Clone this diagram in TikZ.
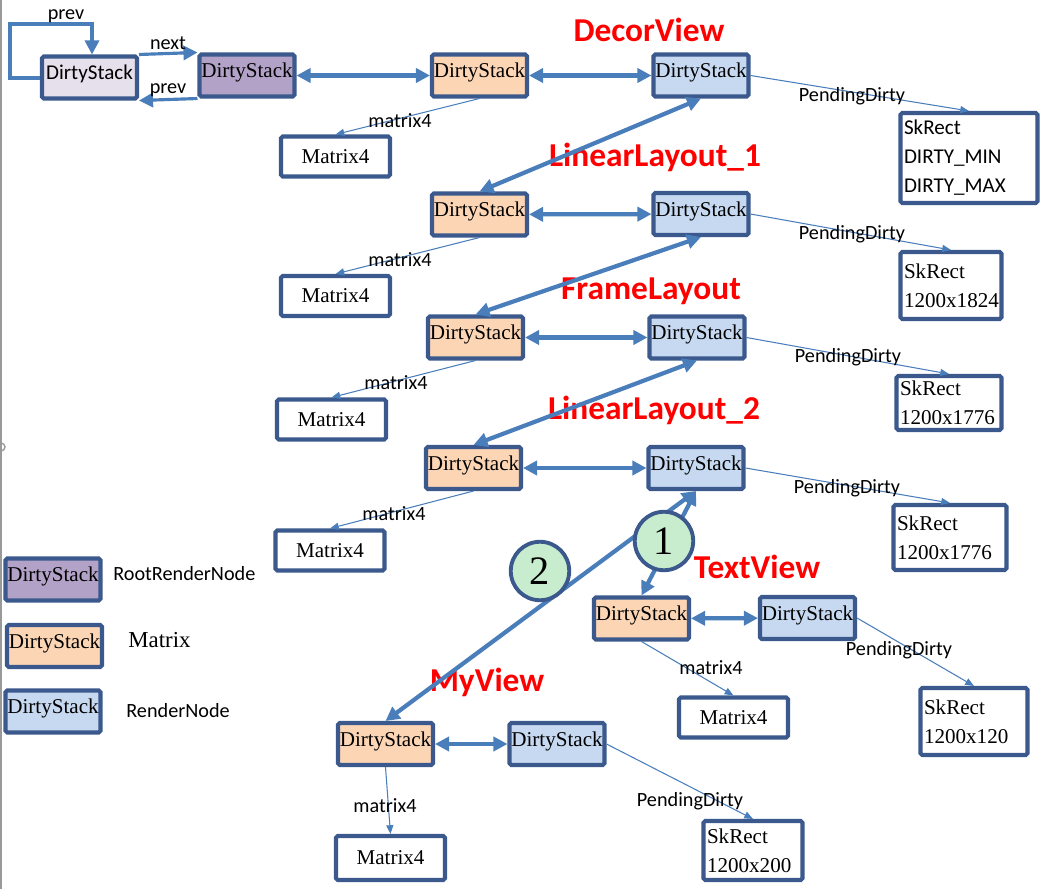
\documentclass[tikz,border=0pt]{standalone}
\usepackage{fontspec}
\setmainfont{Liberation Serif}
\newfontfamily\calibri{Carlito}
\usetikzlibrary{arrows.meta}
\definecolor{edgeblue}{RGB}{59,89,140}
\definecolor{arrowblue}{RGB}{74,126,187}
\definecolor{rootfill}{RGB}{179,162,199}
\definecolor{lavfill}{RGB}{230,224,236}
\definecolor{matfill}{RGB}{252,213,181}
\definecolor{rendfill}{RGB}{198,217,241}
\definecolor{stepfill}{RGB}{200,236,206}
\tikzset{
  dstack/.style={draw=edgeblue, line width=2.3pt, rounded corners=1pt, minimum width=1.9cm,
    minimum height=0.84cm, inner sep=1pt, text height=8.5pt, text depth=6pt,
    font=\fontsize{12}{14}\selectfont},
  rootds/.style={dstack, fill=rootfill},
  matds/.style={dstack, fill=matfill},
  rendds/.style={dstack, fill=rendfill},
  matbox/.style={draw=edgeblue, line width=2.3pt, rounded corners=1pt, fill=white,
    minimum width=2.18cm, minimum height=0.8cm, font=\fontsize{12}{14}\selectfont},
  rectbox/.style={draw=edgeblue, line width=2.3pt, rounded corners=1pt, fill=white,
    align=left, inner sep=2pt, font=\fontsize{12}{16.5}\selectfont},
  link/.style={{Triangle[length=8pt,width=8pt]}-{Triangle[length=8pt,width=8pt]},
    draw=arrowblue, line width=2.4pt},
  ptr/.style={-{Triangle[length=5pt,width=4pt]}, draw=arrowblue, line width=0.6pt},
  listptr/.style={-{Triangle[length=8pt,width=8pt]}, draw=arrowblue, line width=1.8pt},
  tag/.style={font=\calibri\fontsize{11.5}{13}\selectfont, inner sep=0pt},
  viewname/.style={font=\calibri\bfseries\fontsize{19}{22}\selectfont, text=red, inner sep=0pt},
  stepmark/.style={circle, draw=edgeblue, line width=2.2pt, fill=stepfill, minimum size=1.17cm,
    inner sep=0pt, font=\fontsize{23}{25}\selectfont}
}
\begin{document}
\begin{tikzpicture}[x=0.02cm, y=-0.02cm]
  \useasboundingbox (0,0) rectangle (1063,889);
  % page edge
  \draw[gray!80, line width=1.2pt] (0.6,0) -- (0.6,889);
  \draw[gray!80, line width=0.8pt] (1,451) arc (90:-90:4);

  % root list
  \node[dstack, fill=lavfill, font=\calibri\fontsize{12}{14}\selectfont] (head) at (89.5,77.5) {DirtyStack};
  \node[rootds] (root) at (247,75.5) {DirtyStack};
  \coordinate (loopa) at (10,78);
  \coordinate (loopb) at (92,24);
  \draw[listptr] (head.west |- loopa) -| (loopa) |- (loopb) -- (head.north -| loopb);
  \node[tag] at (66,16) {prev};
  \draw[listptr] (head.north east) -- (root.north west);
  \node[tag] at (168,43) {next};
  \draw[listptr] (root.south west) -- (head.south east);
  \node[tag] at (168,90) {prev};

  % DecorView
  \node[viewname] at (649,30) {DecorView};
  \node[matds] (ma) at (479.5,75.5) {DirtyStack};
  \node[rendds] (ra) at (701,75.5) {DirtyStack};
  \node[matbox] (xa) at (335.5,156.5) {Matrix4};
  \node[rectbox, text width=2.6cm, minimum height=1.8cm] (sa) at (969,158) {\calibri SkRect\\\calibri DIRTY\_MIN\\\calibri DIRTY\_MAX};
  \draw[link] (root) -- (ma);
  \draw[link] (ma) -- (ra);
  \draw[ptr] (ma.south) -- (xa.north);
  \node[tag] at (400,121) {matrix4};
  \draw[ptr] (ra.east) -- (sa.north);
  \node[tag] at (852,96) {PendingDirty};

  % LinearLayout_1
  \node[viewname] at (655,157) {LinearLayout\_1};
  \node[matds] (mb) at (479.5,214.5) {DirtyStack};
  \node[rendds] (rb) at (701,214) {DirtyStack};
  \node[matbox] (xb) at (335.5,296) {Matrix4};
  \node[rectbox, text width=1.88cm, minimum height=1.34cm] (sb) at (951,285.5) {SkRect\\1200x1824};
  \draw[link] (ra.south) -- (mb.north);
  \draw[link] (mb) -- (rb);
  \draw[ptr] (mb.south) -- (xb.north);
  \node[tag] at (400,260) {matrix4};
  \draw[ptr] (rb.east) -- (sb.north);
  \node[tag] at (852,234) {PendingDirty};

  % FrameLayout
  \node[viewname] at (651,291) {FrameLayout};
  \node[matds] (mc) at (475.5,337.5) {DirtyStack};
  \node[rendds] (rc) at (697,337.5) {DirtyStack};
  \node[matbox] (xc) at (331.5,419.5) {Matrix4};
  \node[rectbox, text width=1.96cm, minimum height=1.08cm] (sc) at (949,403) {SkRect\\1200x1776};
  \draw[link] (rb.south) -- (mc.north);
  \draw[link] (mc) -- (rc);
  \draw[ptr] (mc.south) -- (xc.north);
  \node[tag] at (396,383) {matrix4};
  \draw[ptr] (rc.east) -- (sc.north);
  \node[tag] at (848,357) {PendingDirty};

  % LinearLayout_2
  \node[viewname] at (654,410) {LinearLayout\_2};
  \node[matds] (md) at (473.5,468) {DirtyStack};
  \node[rendds] (rd) at (696,468) {DirtyStack};
  \node[matbox] (xd) at (330,550.5) {Matrix4};
  \node[rectbox, text width=2.12cm, minimum height=1.3cm] (sd) at (950,537.5) {SkRect\\1200x1776};
  \draw[link] (rc.south) -- (md.north);
  \draw[link] (md) -- (rd);
  \draw[ptr] (md.south) -- (xd.north);
  \node[tag] at (394,514) {matrix4};
  \draw[ptr] (rd.east) -- (sd.north);
  \node[tag] at (847,488) {PendingDirty};

  % TextView
  \node[viewname] at (757,567) {TextView};
  \node[matds] (me) at (641.5,618.5) {DirtyStack};
  \node[rendds] (re) at (807.5,618) {DirtyStack};
  \node[matbox] (xe) at (733.5,717.5) {Matrix4};
  \node[rectbox, text width=2.0cm, minimum height=1.34cm] (se) at (974,721.5) {SkRect\\1200x120};
  \draw[link] (rd.south) -- (me.north);
  \draw[link] (me) -- (re);
  \draw[ptr] (me.south) -- (xe.north);
  \node[tag] at (711,668) {matrix4};
  \draw[ptr] (re.east) -- (se.north);
  \node[tag] at (899,650) {PendingDirty};

  % MyView
  \node[viewname] at (487,682) {MyView};
  \node[matds] (mf) at (385.5,744) {DirtyStack};
  \node[rendds] (rf) at (557,744) {DirtyStack};
  \node[matbox, minimum height=0.88cm] (xf) at (390.5,858) {Matrix4};
  \node[rectbox, text width=1.84cm, minimum height=1.18cm] (sf) at (753,850.5) {SkRect\\1200x200};
  \draw[link] (rd.south) -- (mf.north);
  \draw[link] (mf) -- (rf);
  \draw[ptr] (mf.south) -- (xf.north);
  \node[tag] at (385,806) {matrix4};
  \draw[ptr] (rf.east) -- (sf.north);
  \node[tag] at (690,801) {PendingDirty};

  % order marks
  \node[stepmark] (one) at (664,541) {1};
  \node[stepmark] (two) at (540,571) {2};

  % legend
  \node[rootds] (keyroot) at (53,579.5) {DirtyStack};
  \node[tag, anchor=west] at (113,574) {RootRenderNode};
  \node[matds] (keymat) at (54.5,646) {DirtyStack};
  \node[anchor=west, inner sep=0pt, font=\fontsize{13}{15}\selectfont] at (128,640) {Matrix};
  \node[rendds] (keyrend) at (53,711.5) {DirtyStack};
  \node[tag, anchor=west] at (126,711) {RenderNode};
\end{tikzpicture}
\end{document}
